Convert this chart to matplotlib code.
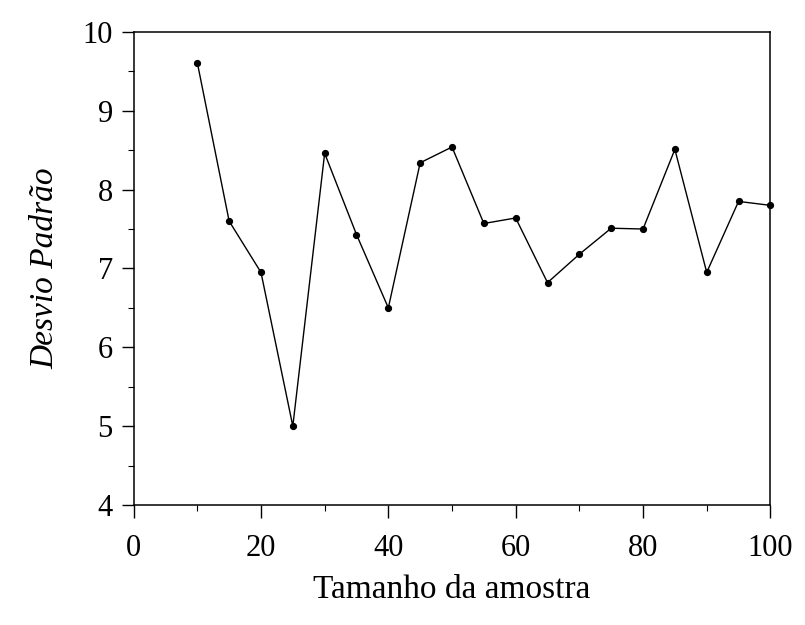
import matplotlib
matplotlib.use("Agg")
import matplotlib.pyplot as plt
from matplotlib.ticker import MultipleLocator

# Data
sample_size = [10, 15, 20, 25, 30, 35, 40, 45, 50, 55, 60, 65, 70, 75, 80, 85, 90, 95, 100]
std_dev = [9.61, 7.60, 6.95, 5.00, 8.46, 7.43, 6.50, 8.34, 8.54, 7.57, 7.64,
           6.82, 7.18, 7.51, 7.50, 8.51, 6.95, 7.85, 7.80]
x_ticks = [0, 20, 40, 60, 80, 100]
y_ticks = [4, 5, 6, 7, 8, 9, 10]
x_label = "Tamanho da amostra"
y_label = "Desvio Padrão"

plt.rcParams['font.family'] = ['Liberation Serif', 'DejaVu Serif']

fig = plt.figure(figsize=(8.05, 6.25), dpi=100)
ax = fig.add_axes([0.166, 0.192, 0.791, 0.757])

ax.plot(sample_size, std_dev, color='black', linewidth=1.0,
        marker='o', markersize=4.2, markerfacecolor='black', markeredgecolor='black',
        clip_on=False)

ax.set_xlim(0, 100)
ax.set_ylim(4, 10)
ax.set_xticks(x_ticks)
ax.set_yticks(y_ticks)
ax.xaxis.set_minor_locator(MultipleLocator(10))
ax.yaxis.set_minor_locator(MultipleLocator(0.5))

ax.tick_params(axis='both', which='major', direction='out', length=9, width=1,
               labelsize=22, colors='black', top=False, right=False)
ax.tick_params(axis='both', which='minor', direction='out', length=4.5, width=0.8,
               top=False, right=False)
ax.tick_params(axis='x', which='major', pad=12)
ax.tick_params(axis='y', which='major', pad=6)

for s in ax.spines.values():
    s.set_linewidth(1.1)
    s.set_color('black')

ax.set_xlabel(x_label, fontsize=24, labelpad=8)
ax.set_ylabel(y_label, fontsize=24, style='italic', labelpad=16)

fig.savefig("out.png", dpi=100, facecolor='white')
